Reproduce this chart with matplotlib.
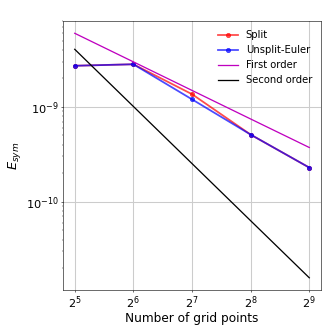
import matplotlib
matplotlib.use("Agg")
import matplotlib.pyplot as plt
import numpy as np

N = [32, 64, 128, 256, 512]
split = [2.71e-9, 2.81e-9, 1.36e-9, 5.1e-10, 2.29e-10]
unsplit = [2.71e-9, 2.81e-9, 1.20e-9, 5.1e-10, 2.29e-10]
first_order = [5.96e-9, 2.98e-9, 1.49e-9, 7.45e-10, 3.73e-10]
second_order = [4.04e-9, 1.01e-9, 2.525e-10, 6.31e-11, 1.58e-11]

fig, ax = plt.subplots(figsize=(6.4, 6.4), dpi=329 / 6.4)
ax.plot(N, split, 'o-', color='red', alpha=0.7, markersize=6, linewidth=2.5, label='Split')
ax.plot(N, unsplit, 'o-', color='blue', alpha=0.7, markersize=6, linewidth=2.5, label='Unsplit-Euler')
ax.plot(N, first_order, '-', color='m', linewidth=1.8, label='First order')
ax.plot(N, second_order, '-', color='k', linewidth=1.8, label='Second order')
ax.set_xscale('log', base=2)
ax.set_yscale('log')
ax.set_xticks(N)
ax.tick_params(labelsize=16, pad=2.5)
ax.grid(True, color='#cccccc', linewidth=1.5)
ax.set_xlabel('Number of grid points', fontsize=17, labelpad=2)
ax.set_ylabel(r'$E_{sym}$', fontsize=18)
ax.legend(frameon=False, fontsize=14)
fig.subplots_adjust(left=0.1915, right=0.9757, top=0.936, bottom=0.1185)
fig.savefig('out.png')
